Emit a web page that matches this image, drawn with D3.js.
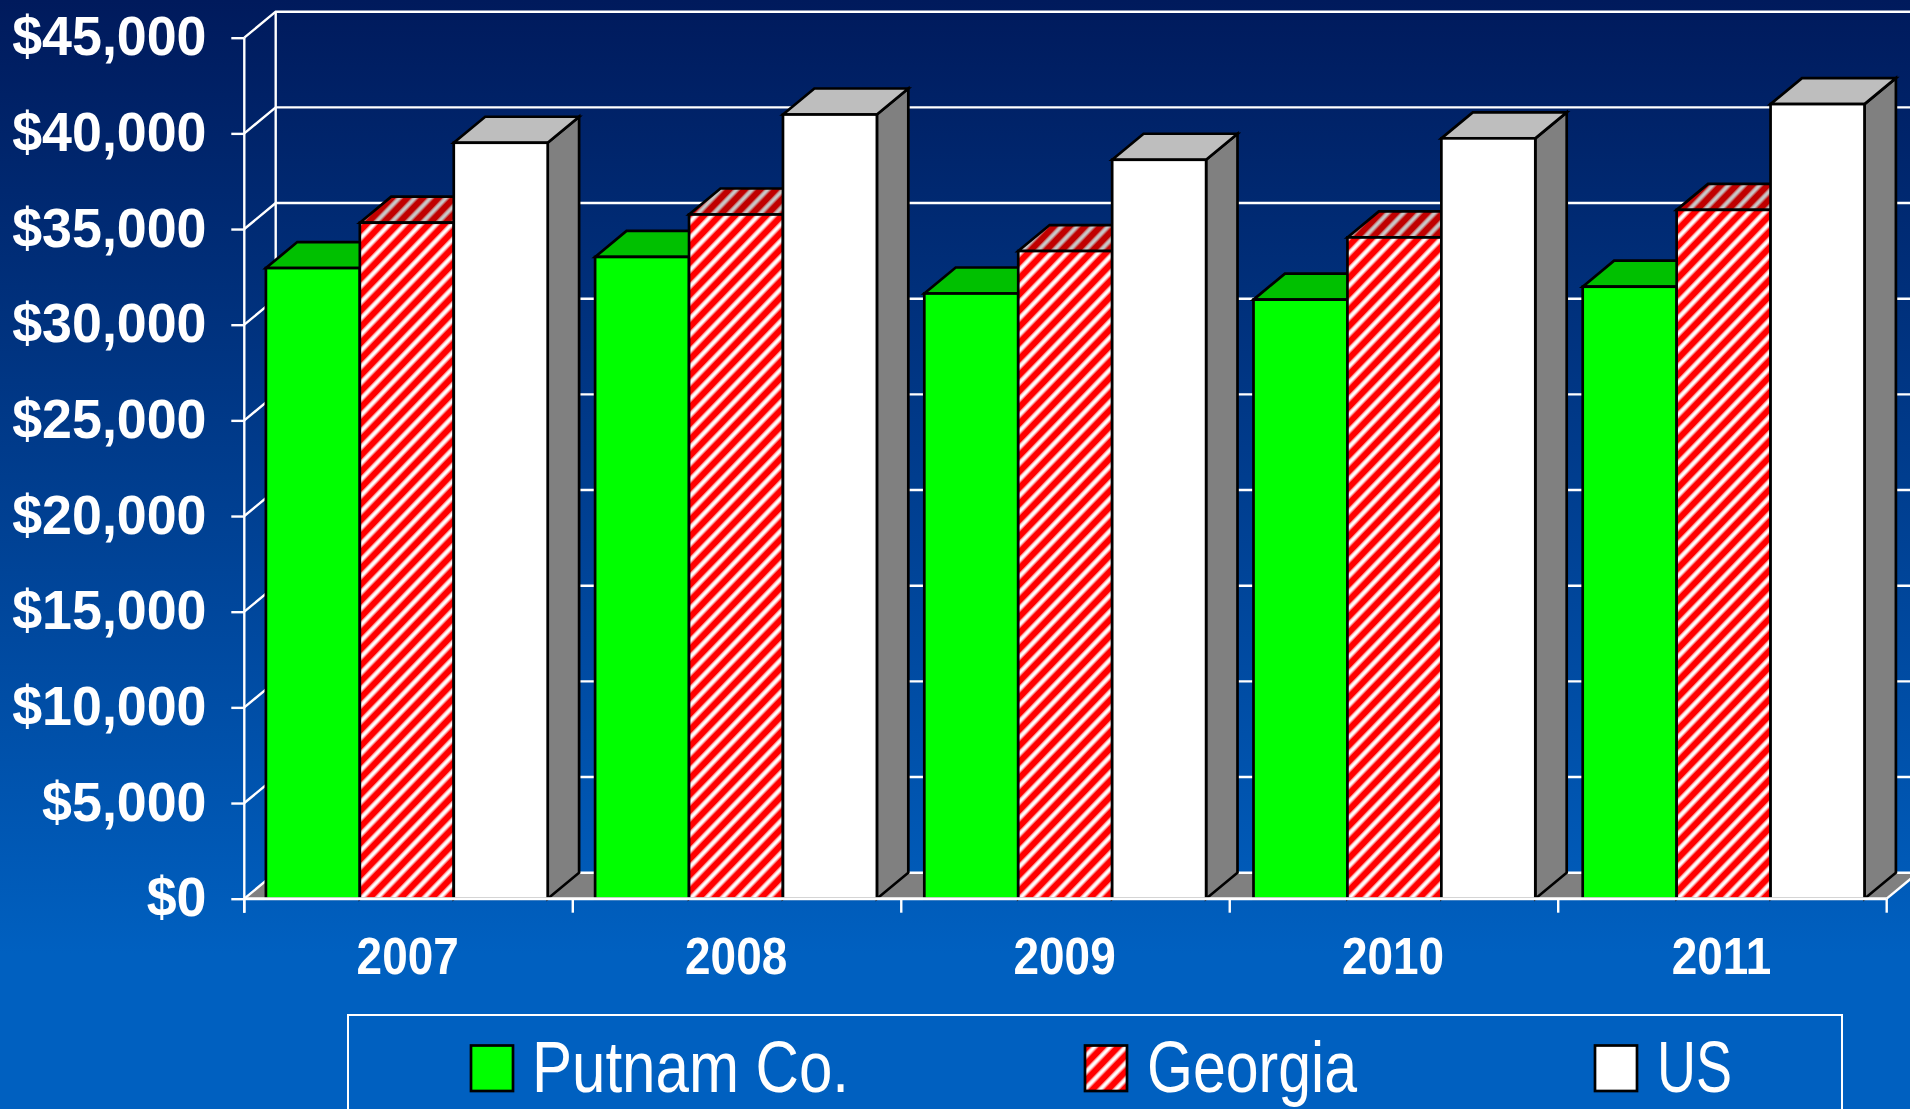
<!DOCTYPE html>
<html>
<head>
<meta charset="utf-8">
<title>Putnam Co., Georgia, US</title>
<script src="https://cdn.jsdelivr.net/npm/d3@7"></script>
<style>
    html, body { margin: 0; padding: 0; overflow: hidden; background: #0060c0; }
    svg { display: block; }
</style>
</head>
<body>
<div id="chart"></div>
<script>
var years = ["2007", "2008", "2009", "2010", "2011"];
var seriesNames = ["Putnam Co.", "Georgia", "US"];
var putnam  = [32960, 33540, 31630, 31310, 31985];
var georgia = [35330, 35760, 33850, 34560, 36000];
var us      = [39510, 40985, 38620, 39740, 41530];
var seriesValues = [putnam, georgia, us];
var yTicks = [0, 5000, 10000, 15000, 20000, 25000, 30000, 35000, 40000, 45000];

var width   = 1910,
    height  = 1109,
    left    = 244.3,
    right   = 1886.7,
    base    = 898.7,
    top_    = 37.7,
    dx      = 31.4,
    dy      = 26;

var faces = [
    { front: "#00ff00", top: "#00c000", side: "#008000" },
    { front: "url(#hatch)", top: "url(#hatchDark)", side: "url(#hatchSide)" },
    { front: "#ffffff", top: "#bebebe", side: "#808080" }
];

var svg = d3.select("#chart").append("svg")
    .attr("width", width)
    .attr("height", height);

var defs = svg.append("defs");

var bg = defs.append("linearGradient")
    .attr("id", "bg")
    .attr("x1", 0).attr("y1", 0)
    .attr("x2", 0).attr("y2", 1);
bg.append("stop").attr("offset", 0).attr("stop-color", "#001a5c");
bg.append("stop").attr("offset", 0.86).attr("stop-color", "#0060c0");

// soft edged diagonal stripes, the reference is a scaled-up bitmap hatch
function hatch(id, back, edge, stripe) {
    var p = defs.append("pattern")
        .attr("id", id)
        .attr("patternUnits", "userSpaceOnUse")
        .attr("width", 11.2)
        .attr("height", 11.2)
        .attr("patternTransform", "rotate(44)");
    p.append("rect").attr("width", 11.2).attr("height", 11.2).attr("fill", back);
    p.append("rect").attr("width", 5.4).attr("height", 11.2).attr("fill", edge);
    p.append("rect").attr("x", 1.2).attr("width", 3).attr("height", 11.2).attr("fill", stripe);
}
hatch("hatch", "#ff0000", "#ff8c8c", "#ffffff");
hatch("hatchDark", "#c00000", "#c46464", "#c8c8c8");
hatch("hatchSide", "#800000", "#804040", "#808080");

svg.append("rect")
    .attr("width", width)
    .attr("height", height)
    .attr("fill", "url(#bg)");

// scales
var y = d3.scaleLinear().domain([0, 45000]).range([base, top_]);
var x = d3.scaleBand().domain(years).range([left, right]);
var xBars = d3.scaleBand().domain(years).range([left, left + 329.2 * 5]);
var xSeries = d3.scaleBand().domain(d3.range(seriesNames.length)).range([21.6, 303.4]);

// floor, walls and gridlines
svg.append("polygon")
    .attr("points", [
        [left, base], [left + dx, base - dy],
        [right + dx, base - dy], [right, base]
    ].join(" "))
    .attr("fill", "#808080");

var grid = svg.append("g")
    .attr("stroke", "#ffffff")
    .attr("stroke-width", 2.4)
    .attr("fill", "none");

grid.selectAll("path")
    .data(yTicks)
    .enter()
    .append("path")
    .attr("d", function(d) {
        return "M" + left + "," + y(d) +
            "L" + (left + dx) + "," + (y(d) - dy) +
            "L" + (right + dx) + "," + (y(d) - dy);
    });

grid.append("line")
    .attr("x1", left + dx).attr("x2", left + dx)
    .attr("y1", y(45000) - dy).attr("y2", base - dy);

grid.append("path")
    .attr("d", "M" + right + "," + base + "L" + (right + dx) + "," + (base - dy));

// bars, left to right so that later ones cover earlier ones
var groups = svg.selectAll("g.year")
    .data(years)
    .enter()
    .append("g")
    .attr("class", "year")
    .attr("transform", function(d) { return "translate(" + xBars(d) + ",0)"; });

groups.each(function(year, yi) {
    var g = d3.select(this);
    seriesValues.forEach(function(values, si) {
        var x0 = xSeries(si),
            x1 = x0 + xSeries.bandwidth(),
            yTop = y(values[yi]);

        var bar = g.append("g")
            .attr("stroke", "#000000")
            .attr("stroke-width", 2.7)
            .attr("stroke-linejoin", "miter");

        bar.append("polygon")
            .attr("points", [
                [x1, yTop], [x1 + dx, yTop - dy],
                [x1 + dx, base - dy], [x1, base]
            ].join(" "))
            .attr("fill", faces[si].side);
        bar.append("polygon")
            .attr("points", [
                [x0, yTop], [x0 + dx, yTop - dy],
                [x1 + dx, yTop - dy], [x1, yTop]
            ].join(" "))
            .attr("fill", faces[si].top);
        bar.append("rect")
            .attr("x", x0)
            .attr("y", yTop)
            .attr("width", x1 - x0)
            .attr("height", base - yTop)
            .attr("fill", faces[si].front);
    });
});

// axes
var yAxis = svg.append("g")
    .attr("transform", "translate(" + left + ",0)")
    .call(d3.axisLeft(y)
        .tickValues(yTicks)
        .tickSize(13)
        .tickFormat(function(d) { return "$" + d3.format(",")(d); }));

var yScaleX = 0.96;
yAxis.select(".domain").attr("d", "M0," + (y(45000)) + "V" + (base + 14));
yAxis.selectAll("text")
    .attr("x", -37.8 / yScaleX)
    .attr("dy", null)
    .attr("y", 17)
    .attr("transform", "scale(" + yScaleX + ",1)")
    .style("font-family", "'Liberation Sans', Arial, sans-serif")
    .style("font-weight", "bold")
    .style("font-size", "56px");

var xAxis = svg.append("g")
    .attr("transform", "translate(0," + base + ")")
    .call(d3.axisBottom(x).tickSize(0));

var xScaleX = 0.9;
xAxis.select(".domain").remove();
xAxis.selectAll("text")
    .attr("dy", null)
    .attr("y", 75.5)
    .attr("x", -1)
    .attr("transform", "scale(" + xScaleX + ",1)")
    .style("font-family", "'Liberation Sans', Arial, sans-serif")
    .style("font-weight", "bold")
    .style("font-size", "51px");

// ticks sit on the category boundaries, not the centres
xAxis.selectAll("line.edge")
    .data(d3.range(years.length + 1))
    .enter()
    .append("line")
    .attr("class", "edge")
    .attr("x1", function(d) { return left + d * x.step(); })
    .attr("x2", function(d) { return left + d * x.step(); })
    .attr("y1", 0)
    .attr("y2", 14);

svg.selectAll(".tick line, .domain, line.edge")
    .attr("stroke", "#ffffff")
    .attr("stroke-width", 2.4);
svg.selectAll(".tick text").attr("fill", "#ffffff");

xAxis.append("line")
    .attr("x1", left)
    .attr("x2", right)
    .attr("y1", 0)
    .attr("y2", 0)
    .attr("stroke", "#ffffff")
    .attr("stroke-width", 3);

// legend
var legendBox = [348, 1015, 1494, 140];
var legendSwatchX = [471, 1085, 1595];
var legendTextX = [532, 1147, 1657];
var legendTextW = [317, 210, 75];

var legend = svg.append("g");
legend.append("rect")
    .attr("x", legendBox[0])
    .attr("y", legendBox[1])
    .attr("width", legendBox[2])
    .attr("height", legendBox[3])
    .attr("fill", "none")
    .attr("stroke", "#ffffff")
    .attr("stroke-width", 2);

var items = legend.selectAll("g.item")
    .data(seriesNames)
    .enter()
    .append("g")
    .attr("class", "item");

items.append("rect")
    .attr("x", function(d, i) { return legendSwatchX[i]; })
    .attr("y", 1045.5)
    .attr("width", 42)
    .attr("height", 45.5)
    .attr("fill", function(d, i) { return faces[i].front; })
    .attr("stroke", "#000000")
    .attr("stroke-width", 2.7);

// no narrow face is installed, so squeeze the regular one to the same width
items.append("text")
    .attr("x", function(d, i) { return legendTextX[i]; })
    .attr("y", 1092)
    .attr("fill", "#ffffff")
    .attr("textLength", function(d, i) { return legendTextW[i]; })
    .attr("lengthAdjust", "spacingAndGlyphs")
    .style("font-family", "'Liberation Sans', Arial, sans-serif")
    .style("font-size", "72px")
    .text(function(d) { return d; });
</script>
</body>
</html>
